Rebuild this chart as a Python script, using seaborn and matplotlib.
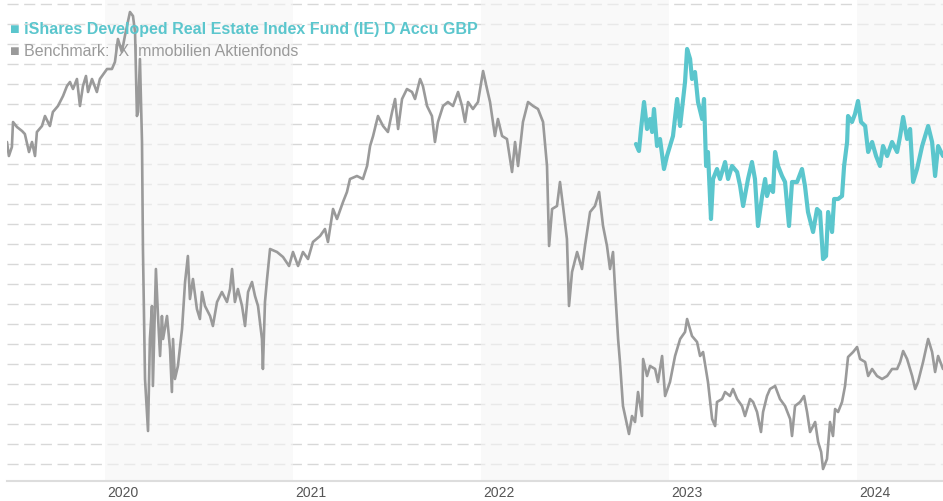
import numpy as np
import pandas as pd
import seaborn as sns
import matplotlib.pyplot as plt
from matplotlib.transforms import ScaledTranslation

# Benchmark (grey) - decimal year / relative level
bench_year = [2019.479, 2019.489, 2019.505, 2019.511, 2019.532, 2019.559, 2019.574, 2019.596, 2019.612, 2019.628,
              2019.638, 2019.665, 2019.681, 2019.707, 2019.723, 2019.750, 2019.777, 2019.798, 2019.814, 2019.830,
              2019.851, 2019.867, 2019.883, 2019.899, 2019.910, 2019.931, 2019.957, 2019.973, 2020.011, 2020.037,
              2020.053, 2020.069, 2020.090, 2020.106, 2020.133, 2020.149, 2020.160, 2020.170, 2020.176, 2020.186,
              2020.197, 2020.202, 2020.213, 2020.229, 2020.239, 2020.250, 2020.255, 2020.271, 2020.282, 2020.293,
              2020.303, 2020.309, 2020.330, 2020.346, 2020.356, 2020.362, 2020.372, 2020.388, 2020.410, 2020.426,
              2020.441, 2020.452, 2020.468, 2020.489, 2020.505, 2020.516, 2020.532, 2020.559, 2020.574, 2020.596,
              2020.622, 2020.649, 2020.665, 2020.676, 2020.691, 2020.707, 2020.729, 2020.745, 2020.761, 2020.782,
              2020.798, 2020.814, 2020.835, 2020.840, 2020.851, 2020.862, 2020.878, 2020.915, 2020.947, 2020.979,
              2021.000, 2021.027, 2021.053, 2021.080, 2021.106, 2021.144, 2021.170, 2021.186, 2021.213, 2021.234,
              2021.266, 2021.287, 2021.303, 2021.340, 2021.372, 2021.394, 2021.410, 2021.426, 2021.452, 2021.479,
              2021.505, 2021.527, 2021.543, 2021.559, 2021.580, 2021.606, 2021.633, 2021.649, 2021.676, 2021.691,
              2021.713, 2021.739, 2021.755, 2021.771, 2021.798, 2021.824, 2021.851, 2021.878, 2021.899, 2021.915,
              2021.931, 2021.957, 2021.984, 2022.011, 2022.032, 2022.048, 2022.074, 2022.090, 2022.112, 2022.138,
              2022.165, 2022.181, 2022.197, 2022.223, 2022.250, 2022.277, 2022.303, 2022.330, 2022.351, 2022.362,
              2022.378, 2022.404, 2022.420, 2022.436, 2022.457, 2022.468, 2022.484, 2022.511, 2022.537, 2022.553,
              2022.580, 2022.606, 2022.628, 2022.649, 2022.670, 2022.686, 2022.702, 2022.713, 2022.729, 2022.739,
              2022.755, 2022.787, 2022.803, 2022.819, 2022.835, 2022.856, 2022.862, 2022.883, 2022.899, 2022.926,
              2022.941, 2022.963, 2022.979, 2023.005, 2023.032, 2023.059, 2023.085, 2023.096, 2023.122, 2023.149,
              2023.165, 2023.181, 2023.207, 2023.229, 2023.245, 2023.255, 2023.282, 2023.298, 2023.324, 2023.340,
              2023.362, 2023.388, 2023.404, 2023.431, 2023.447, 2023.468, 2023.489, 2023.500, 2023.521, 2023.537,
              2023.564, 2023.590, 2023.617, 2023.644, 2023.654, 2023.670, 2023.697, 2023.718, 2023.734, 2023.750,
              2023.777, 2023.793, 2023.809, 2023.819, 2023.840, 2023.856, 2023.872, 2023.883, 2023.899, 2023.920,
              2023.936, 2023.952, 2023.979, 2024.000, 2024.016, 2024.043, 2024.059, 2024.080, 2024.106, 2024.133,
              2024.160, 2024.186, 2024.213, 2024.229, 2024.245, 2024.266, 2024.293, 2024.309, 2024.324, 2024.351,
              2024.378, 2024.399, 2024.415, 2024.431, 2024.457]
bench_val = [16.10, 15.40, 15.85, 17.10, 16.85, 16.65, 16.50, 15.60, 16.10, 15.40,
             16.60, 16.90, 17.40, 16.90, 17.60, 17.90, 18.40, 18.90, 19.10, 18.75,
             19.25, 17.90, 18.90, 19.40, 18.60, 19.25, 18.60, 19.25, 19.75, 19.75,
             20.10, 21.25, 20.60, 21.40, 22.60, 22.40, 21.60, 17.40, 17.60, 20.25,
             16.10, 10.75, 4.25, 1.65, 6.25, 7.90, 3.90, 9.75, 7.40, 5.40,
             7.40, 6.25, 7.40, 5.75, 3.60, 6.25, 4.25, 4.90, 6.75, 9.10,
             10.40, 8.25, 9.25, 7.75, 7.25, 8.60, 7.90, 7.40, 6.90, 8.10,
             8.60, 8.10, 8.75, 9.75, 8.10, 8.75, 7.90, 6.90, 8.60, 9.10,
             8.40, 7.90, 6.25, 4.75, 8.10, 9.25, 10.75, 10.60, 10.35, 9.90,
             10.60, 9.90, 10.60, 10.25, 11.10, 11.40, 11.75, 11.10, 12.75, 12.25,
             13.10, 13.60, 14.25, 14.40, 14.25, 14.90, 15.90, 16.40, 17.40, 16.90,
             16.60, 17.60, 18.25, 16.75, 18.25, 18.75, 18.60, 18.25, 19.25, 18.90,
             17.90, 17.40, 16.10, 17.10, 17.90, 18.10, 17.90, 18.60, 17.90, 17.10,
             18.10, 17.75, 18.10, 19.65, 18.75, 18.10, 16.40, 17.25, 16.40, 16.25,
             14.60, 16.10, 14.90, 17.10, 18.10, 17.90, 17.75, 17.10, 14.90, 10.90,
             12.75, 12.90, 14.10, 12.90, 11.25, 7.90, 9.60, 10.60, 9.75, 10.90,
             12.60, 12.90, 13.60, 11.90, 10.90, 9.75, 10.60, 8.75, 6.25, 5.10,
             2.90, 1.50, 2.40, 2.10, 3.60, 2.40, 5.25, 4.40, 4.90, 4.75,
             4.10, 5.40, 3.40, 4.10, 5.40, 6.25, 6.60, 7.25, 6.40, 6.10,
             5.40, 5.60, 4.10, 2.25, 1.90, 3.10, 3.25, 3.60, 3.40, 3.75,
             3.25, 2.90, 2.40, 3.25, 3.10, 2.60, 1.60, 2.60, 3.40, 3.75,
             3.90, 3.25, 2.90, 2.25, 1.40, 2.90, 3.10, 3.40, 2.60, 1.60,
             2.10, 1.10, 0.60, -0.25, 0.25, 2.10, 1.40, 2.75, 2.60, 3.10,
             3.90, 5.35, 5.60, 5.85, 5.25, 5.10, 4.40, 4.75, 4.40, 4.25,
             4.40, 4.75, 4.75, 5.10, 5.65, 5.25, 4.40, 3.75, 4.10, 5.10,
             6.25, 5.60, 4.60, 5.40, 4.75]

# Fund (teal)
fund_year = [2022.824, 2022.840, 2022.851, 2022.867, 2022.883, 2022.899, 2022.910, 2022.920, 2022.936, 2022.952,
             2022.973, 2022.989, 2023.005, 2023.021, 2023.043, 2023.059, 2023.085, 2023.096, 2023.112, 2023.122,
             2023.138, 2023.154, 2023.176, 2023.186, 2023.197, 2023.207, 2023.223, 2023.234, 2023.255, 2023.271,
             2023.298, 2023.314, 2023.335, 2023.362, 2023.378, 2023.394, 2023.420, 2023.441, 2023.457, 2023.473,
             2023.495, 2023.511, 2023.521, 2023.537, 2023.553, 2023.564, 2023.580, 2023.601, 2023.617, 2023.638,
             2023.654, 2023.681, 2023.707, 2023.723, 2023.739, 2023.766, 2023.787, 2023.803, 2023.819, 2023.835,
             2023.846, 2023.867, 2023.878, 2023.899, 2023.920, 2023.931, 2023.947, 2023.952, 2023.973, 2023.989,
             2024.005, 2024.021, 2024.043, 2024.059, 2024.080, 2024.101, 2024.122, 2024.138, 2024.160, 2024.186,
             2024.213, 2024.229, 2024.245, 2024.266, 2024.282, 2024.298, 2024.319, 2024.346, 2024.362, 2024.378,
             2024.399, 2024.415, 2024.431, 2024.457]
fund_val = [16.00, 15.65, 16.75, 18.10, 16.75, 17.25, 16.60, 17.75, 15.90, 16.25,
            14.75, 15.40, 15.90, 16.40, 18.25, 16.90, 19.10, 20.75, 20.25, 19.25,
            19.60, 18.10, 17.25, 18.25, 14.90, 15.60, 12.25, 14.25, 14.75, 14.25,
            15.10, 14.25, 14.90, 14.60, 13.90, 12.90, 14.25, 15.10, 14.25, 11.90,
            13.40, 14.25, 13.40, 13.90, 13.60, 15.60, 14.90, 14.40, 14.10, 11.90,
            14.10, 14.10, 14.75, 13.90, 12.60, 11.60, 12.75, 12.60, 10.25, 10.40,
            12.60, 11.60, 13.25, 13.25, 13.40, 14.90, 16.10, 17.40, 17.10, 17.50,
            18.15, 17.10, 16.90, 15.60, 16.10, 15.40, 14.90, 15.90, 15.40, 16.10,
            15.60, 16.40, 17.35, 16.25, 16.75, 14.10, 14.75, 15.90, 16.40, 16.90,
            16.10, 14.40, 15.90, 15.40]

years = [2020, 2021, 2022, 2023, 2024]
fund_name = "iShares Developed Real Estate Index Fund (IE) D Accu GBP"
bench_name = "Benchmark: IX Immobilien Aktienfonds"

teal = "#5bc6cd"
grey = "#9a9a9a"

sns.set_style("white")
plt.rcParams['font.family'] = ['Liberation Sans', 'DejaVu Sans']

fig = plt.figure(figsize=(9.43, 5.02), dpi=100)
ax = fig.add_axes([7 / 943, 20 / 502, 936 / 943, 482 / 502])

x_min, x_max = 2019.479, 2024.457
ax.set_xlim(x_min, x_max)
ax.set_ylim(-0.85, 23.25)

# dashed gridlines
for g in range(0, 24):
    ax.axhline(g, color="#d8d8d8", lw=1, ls=(0, (8, 4)), zorder=0)

# alternating year bands
for y0 in [2020, 2022, 2024]:
    ax.axvspan(y0, min(y0 + 1, x_max), color="#f5f5f5", alpha=0.6, lw=0, zorder=1)

bench = pd.DataFrame({"year": bench_year, "value": bench_val})
fund = pd.DataFrame({"year": fund_year, "value": fund_val})
sns.lineplot(data=bench, x="year", y="value", color=grey, lw=1.9, ax=ax, zorder=3, estimator=None, sort=False)
sns.lineplot(data=fund, x="year", y="value", color=teal, lw=3.0, ax=ax, zorder=4, estimator=None, sort=False)

for s in ["top", "left", "right"]:
    ax.spines[s].set_visible(False)
ax.spines["bottom"].set_color("#dddddd")
ax.spines["bottom"].set_linewidth(1.5)

ax.set_yticks([])
ax.set_xticks(years)
ax.set_xticklabels([str(y) for y in years], fontsize=10, color="#555555", ha="left")
ax.tick_params(axis="x", length=0, pad=3)
offset = ScaledTranslation(2 / 100, 0, fig.dpi_scale_trans)
for lab in ax.get_xticklabels():
    lab.set_transform(lab.get_transform() + offset)
ax.set_xlabel("")
ax.set_ylabel("")

fig.text(10 / 943, 1 - 30 / 502, "\u25a0 " + fund_name, color=teal, fontsize=11.5,
         fontweight="bold", va="center", ha="left", zorder=10)
fig.text(10 / 943, 1 - 52 / 502, "\u25a0 " + bench_name, color=grey, fontsize=11.5,
         va="center", ha="left", zorder=10)

fig.savefig("out.png", dpi=100)
